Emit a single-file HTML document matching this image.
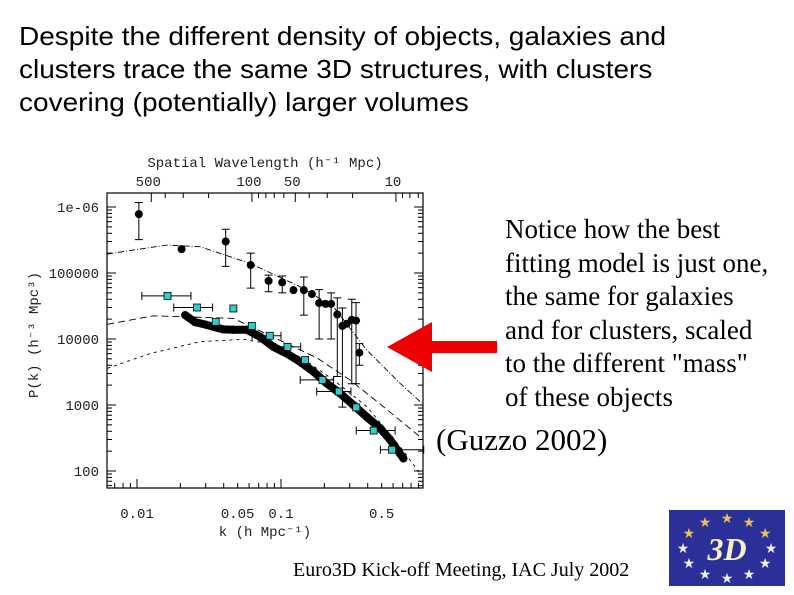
<!DOCTYPE html>
<html><head><meta charset="utf-8">
<style>
html,body{margin:0;padding:0;background:#fff;}
body{width:794px;height:595px;position:relative;overflow:hidden;}
.t{position:absolute;white-space:nowrap;transform-origin:0 0;}
#title{left:19px;top:20px;font:26px/33px "Liberation Sans",sans-serif;color:#000;transform:scaleX(1.077);}
#note{left:505px;top:213px;font:27px/33.6px "Liberation Serif",serif;color:#000;}
#guzzo{left:436px;top:422px;font:31px "Liberation Serif",serif;}
#footer{left:293px;top:559px;font:20px "Liberation Serif",serif;}
</style></head>
<body>
<div class="t" id="title">Despite the different density of objects, galaxies and<br>clusters trace the same 3D structures, with clusters<br>covering (potentially) larger volumes</div>
<div class="t" id="note">Notice how the best<br>fitting model is just one,<br>the same for galaxies<br>and for clusters, scaled<br>to the different "mass"<br>of these objects</div>
<div class="t" id="guzzo">(Guzzo 2002)</div>
<div class="t" id="footer">Euro3D Kick-off Meeting, IAC July 2002</div>

<svg id="chart" width="794" height="595" style="position:absolute;left:0;top:0" font-family="Liberation Mono, monospace">
<g id="axes"></g>
<g id="models"></g>
<g id="marks"></g>
<polygon points="387,347 432,322 432,341 497,341 497,353 432,353 432,372" fill="#ee0000"/>
<g>
<rect x="669" y="510" width="116" height="76" fill="#2b2f98"/>
<g id="stars"></g>
<text x="727" y="560" text-anchor="middle" font-family="Liberation Serif, serif" font-style="italic" font-weight="bold" font-size="32" fill="#f4f0c8">3D</text>
</g>
</svg>
<script>
// ---- data ----
const galK=[0.0103,0.0204,0.0413,0.0616,0.082,0.102,0.122,0.144,0.164,0.184,0.204,0.223,0.246,0.267,0.286,0.31,0.332,0.35];
const galP=[7.8e5,2.3e5,3.0e5,1.32e5,7.6e4,7.2e4,5.5e4,5.5e4,4.8e4,3.5e4,3.4e4,3.4e4,2.35e4,1.58e4,1.7e4,1.95e4,1.9e4,6.2e3];
const galHi=[1.17e6,null,4.6e5,2.0e5,9.3e4,9.0e4,null,8.7e4,null,5.6e4,null,5.0e4,4.2e4,2.95e4,null,4.0e4,3.55e4,8.5e3];
const galLo=[3.2e5,null,1.26e5,5.9e4,5.2e4,5.0e4,null,2.3e4,null,1.0e4,null,1.0e4,2.7e3,930,null,2.1e3,2.1e3,4.0e3];
const denseK=[0.0216,0.0253,0.0297,0.0339,0.0398,0.0467,0.0578,0.0715,0.0885,0.11,0.136,0.168,0.207,0.257,0.318,0.394,0.487,0.571,0.708];
const denseP=[2.3e4,1.8e4,1.66e4,1.53e4,1.4e4,1.38e4,1.38e4,1.08e4,7.6e3,6.0e3,4.5e3,3.2e3,2.14e3,1.5e3,1.0e3,660,445,300,155];
const cluK=[0.0163,0.0261,0.0467,0.0352,0.0627,0.0835,0.111,0.147,0.194,0.252,0.333,0.44,0.59];
const cluP=[4.5e4,3.0e4,2.9e4,1.82e4,1.58e4,1.12e4,7.6e3,4.8e3,2.4e3,1.6e3,920,410,210];
const cluKlo=[0.0108,0.018,null,null,null,0.063,0.092,null,0.136,0.177,null,0.333,0.49];
const cluKhi=[0.0237,0.0335,null,null,null,0.1,0.137,null,0.232,0.306,null,0.62,0.98];
const upK=[0.00622,0.0161,0.0274,0.061,0.1355,0.231,0.394,0.67,0.95];
const upP=[1.94e5,2.65e5,2.5e5,1.4e5,6.2e4,3.1e4,6.8e3,2.13e3,1.07e3];
const midK=[0.00622,0.013,0.0467,0.177,0.301,0.513,0.923];
const midP=[1.67e4,2.25e4,2.05e4,5.2e3,2.4e3,945,330];
const lowK=[0.00622,0.0123,0.0274,0.0547,0.0796,0.1355,0.231,0.394,0.67,0.923];
const lowP=[3.6e3,6.0e3,9.1e3,9.9e3,8.6e3,5.4e3,2.4e3,945,235,92];
const xTicks=[0.01,0.05,0.1,0.5];
const xTickLabels=["0.01","0.05","0.1","0.5"];
const yTicks=[1e6,1e5,1e4,1e3,100];
const yTickLabels=["1e-06","100000","10000","1000","100"];
const lamTicks=[500,100,50,10];
const lamTickLabels=["500","100","50","10"];

// ---- axes ----
const L=107,R=423,T=193,B=488;
const X=k=>281+144*(Math.log10(k)+1);
const Y=p=>207-66*(Math.log10(p)-6);
const NS='http://www.w3.org/2000/svg';
function mk(tag,attrs,parent){const e=document.createElementNS(NS,tag);for(const a in attrs)e.setAttribute(a,attrs[a]);parent.appendChild(e);return e;}
const ax=document.getElementById('axes');
const frame=mk('rect',{x:L,y:T,width:R-L,height:B-T,fill:'none',stroke:'#000','stroke-width':1.2},ax);


for(let d=-3;d<=0;d++)for(let m=1;m<10;m++){const k=m*Math.pow(10,d);const x=X(k);if(x<L||x>R)continue;const len=m===1?9:5;
 mk('line',{x1:x,y1:B,x2:x,y2:B-len,stroke:'#000'},ax);}
for(const lam of [500,400,300,200,100,90,80,70,60,50,40,30,20,10,9,8,7]){const x=X(2*Math.PI/lam);if(x<L||x>R)continue;const major=[500,100,50,10].includes(lam);
 mk('line',{x1:x,y1:T,x2:x,y2:T+(major?9:5),stroke:'#000'},ax);}
for(let d=1;d<=6;d++)for(let m=1;m<10;m++){const p=m*Math.pow(10,d);const y=Y(p);if(y<T||y>B)continue;const len=m===1?9:5;
 mk('line',{x1:L,y1:y,x2:L+len,y2:y,stroke:'#000'},ax);mk('line',{x1:R,y1:y,x2:R-len,y2:y,stroke:'#000'},ax);}
xTicks.forEach((k,i)=>{const t=mk('text',{x:X(k),y:518,'text-anchor':'middle','font-size':14,fill:'#222'},ax);t.textContent=xTickLabels[i];
 
 });
lamTicks.forEach((l,i)=>{const t=mk('text',{x:X(2*Math.PI/l)-3,y:186,'text-anchor':'middle','font-size':14,fill:'#222'},ax);t.textContent=lamTickLabels[i];
 
 });
yTicks.forEach((p,i)=>{const t=mk('text',{x:99,y:Y(p)+5,'text-anchor':'end','font-size':14,fill:'#222'},ax);t.textContent=yTickLabels[i];
 
 });
let t=mk('text',{x:265,y:536,'text-anchor':'middle','font-size':14,fill:'#222'},ax);t.textContent='k (h Mpc\u207B\u00B9)';


t=mk('text',{x:265,y:167,'text-anchor':'middle','font-size':14,fill:'#222'},ax);t.textContent='Spatial Wavelength (h\u207B\u00B9 Mpc)';


t=mk('text',{x:38,y:335,'text-anchor':'middle','font-size':14,fill:'#222',transform:'rotate(-90 38 335)'},ax);t.textContent='P(k) (h\u207B\u00B3 Mpc\u00B3)';



// ---- model curves ----
const mg=document.getElementById('models');
function curve(ks,ps,dash,name){const d=ks.map((k,i)=>(i?'L':'M')+X(k).toFixed(1)+','+Y(ps[i]).toFixed(1)).join(' ');
 const p=mk('path',{d:d,fill:'none',stroke:'#000','stroke-width':0.9,'stroke-dasharray':dash},mg);
 
 }
curve(upK,upP,'6 2 1 2','model-galaxy-clusters');
curve(midK,midP,'7 4','model-clusters');
curve(lowK,lowP,'3 4','model-galaxies');

// ---- marks ----
const g=document.getElementById('marks');
galK.forEach((k,i)=>{const x=X(k);
 if(galHi[i]){const e=mk('path',{d:`M${x},${Y(galHi[i])}V${Y(galLo[i])}M${x-4},${Y(galHi[i])}h8M${x-4},${Y(galLo[i])}h8`,stroke:'#000',fill:'none'},g);
  
  }
 const c=mk('circle',{cx:x,cy:Y(galP[i]),r:4,fill:'#000'},g);
 
 });
denseK.forEach((k,i)=>{if(i>0){const x1=X(denseK[i-1]),y1=Y(denseP[i-1]),x2=X(k),y2=Y(denseP[i]);
  const s=mk('line',{x1,y1,x2,y2,stroke:'#000','stroke-width':8,'stroke-linecap':'round'},g);
  
  }
 const c=mk('circle',{cx:X(k),cy:Y(denseP[i]),r:4,fill:'#000'},g);
 
 });
cluK.forEach((k,i)=>{const x=X(k),y=Y(cluP[i]);
 if(cluKlo[i]){const e=mk('path',{d:`M${X(cluKlo[i])},${y}H${X(cluKhi[i])}M${X(cluKlo[i])},${y-4}v8M${X(cluKhi[i])},${y-4}v8`,stroke:'#000',fill:'none'},g);
  
  }
 const r=mk('rect',{x:x-3.5,y:y-3.5,width:7,height:7,fill:'#33cccc',stroke:'#000','stroke-width':0.8},g);
 
 });

// logo stars
const sg=document.getElementById('stars');
for(let i=0;i<12;i++){const a=i*Math.PI/6;const cx=727+44*Math.sin(a),cy=548-30*Math.cos(a);
 const s=mk('text',{x:cx,y:cy+5,'text-anchor':'middle','font-size':14,fill:i<3||i>9?'#e8c060':'#f0f0f0','font-family':'DejaVu Sans, sans-serif'},sg);
 s.textContent='\u2605';
 
 }
</script>
</body></html>
